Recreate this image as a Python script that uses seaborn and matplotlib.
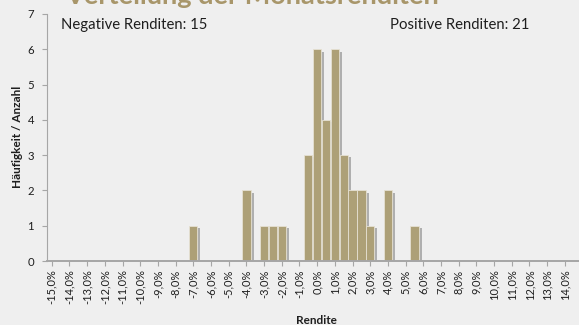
import matplotlib
matplotlib.use("Agg")
import matplotlib.pyplot as plt
import matplotlib.patheffects as pe
import pandas as pd
import seaborn as sns

# Monthly return bins (lower edge, %) and number of months per bin
bin_returns = [
    -15.0, -14.5, -14.0, -13.5, -13.0, -12.5, -12.0, -11.5, -11.0, -10.5,
    -10.0, -9.5, -9.0, -8.5, -8.0, -7.5, -7.0, -6.5, -6.0, -5.5,
    -5.0, -4.5, -4.0, -3.5, -3.0, -2.5, -2.0, -1.5, -1.0, -0.5,
    0.0, 0.5, 1.0, 1.5, 2.0, 2.5, 3.0, 3.5, 4.0, 4.5,
    5.0, 5.5, 6.0, 6.5, 7.0, 7.5, 8.0, 8.5, 9.0, 9.5,
    10.0, 10.5, 11.0, 11.5, 12.0, 12.5, 13.0, 13.5, 14.0, 14.5,
    15.0,
]
bin_counts = [
    0, 0, 0, 0, 0, 0, 0, 0, 0, 0,
    0, 0, 0, 0, 0, 0, 1, 0, 0, 0,
    0, 0, 2, 0, 1, 1, 1, 0, 0, 3,
    6, 4, 6, 3, 2, 2, 1, 0, 2, 0,
    0, 1, 0, 0, 0, 0, 0, 0, 0, 0,
    0, 0, 0, 0, 0, 0, 0, 0, 0, 0,
    0,
]
tick_labels = [
    "-15,0%", "-14,0%", "-13,0%", "-12,0%", "-11,0%", "-10,0%", "-9,0%", "-8,0%",
    "-7,0%", "-6,0%", "-5,0%", "-4,0%", "-3,0%", "-2,0%", "-1,0%", "0,0%",
    "1,0%", "2,0%", "3,0%", "4,0%", "5,0%", "6,0%", "7,0%", "8,0%",
    "9,0%", "10,0%", "11,0%", "12,0%", "13,0%", "14,0%", "15,0%",
]
negative_count = 15
positive_count = 21

BG = "#EFEFEF"
BAR = "#ADA077"
GOLD = "#A8966A"
TEXT = "#1E1E1E"
AXIS = "#A6A6A6"

sns.set_theme(style="white")
plt.rcParams["font.family"] = ["Lato", "DejaVu Sans"]

df = pd.DataFrame({"bin": [f"{v:.1f}" for v in bin_returns], "count": bin_counts})

# plot area in pixels: x from 47.3 to 587 (runs past the right edge), y from 14 to 261
W, H = 579, 325
L, R, T, B = 47.3, 587.0, 14.0, 261.0
fig = plt.figure(figsize=(W / 100, H / 100), dpi=100, facecolor=BG)
ax = fig.add_axes([L / W, 1 - B / H, (R - L) / W, (B - T) / H])
ax.set_facecolor(BG)

sns.barplot(data=df, x="bin", y="count", order=df["bin"], color=BAR,
            saturation=1, width=0.94, edgecolor="#E6E1D3", linewidth=0.6, ax=ax)

shadow = [pe.SimplePatchShadow(offset=(2.2, -1.6), shadow_rgbFace="#707070", alpha=0.5),
          pe.Normal()]
for patch in ax.patches:
    patch.set_path_effects(shadow)

ax.set_xlim(-0.5, len(bin_returns) - 0.5)
ax.set_ylim(0, 7)
ax.set_yticks(range(0, 8))
ax.set_yticklabels([str(v) for v in range(0, 8)], fontsize=8.2, color=TEXT)
ax.set_xticks(range(0, len(bin_returns), 2))
ax.set_xticklabels(tick_labels, rotation=90, fontsize=7.9, color=TEXT)

ax.tick_params(axis="y", length=3.6, width=0.8, color=AXIS, pad=6, left=True)
ax.tick_params(axis="x", length=3.6, width=0.8, color=AXIS, pad=2.5, bottom=True)
for side in ("top", "right"):
    ax.spines[side].set_visible(False)
ax.spines["left"].set_color(AXIS)
ax.spines["left"].set_linewidth(0.8)
ax.spines["bottom"].set_color(AXIS)
ax.spines["bottom"].set_linewidth(1.4)

ax.set_xlabel("Rendite", fontsize=8.5, fontweight="bold", color=TEXT)
ax.set_ylabel("Häufigkeit / Anzahl", fontsize=8.5, fontweight="bold", color=TEXT)
ax.xaxis.label.set_va("center")
ax.yaxis.label.set_va("center")
ax.xaxis.set_label_coords((316 - L) / (R - L), -(320.5 - B) / (B - T))
ax.yaxis.set_label_coords(-(L - 17.5) / (R - L), (B - 137) / (B - T))

fig.text(65 / W, 1 - 4 / H, "Verteilung der Monatsrenditen", ha="left", va="baseline",
         fontsize=19.5, fontweight="bold", color=GOLD)
fig.text(61 / W, 1 - 25 / H, f"Negative Renditen: {negative_count}", ha="left",
         va="center", fontsize=10.7, color=TEXT)
fig.text(390 / W, 1 - 25 / H, f"Positive Renditen: {positive_count}", ha="left",
         va="center", fontsize=10.7, color=TEXT)

fig.savefig("out.png", dpi=100, facecolor=BG)
